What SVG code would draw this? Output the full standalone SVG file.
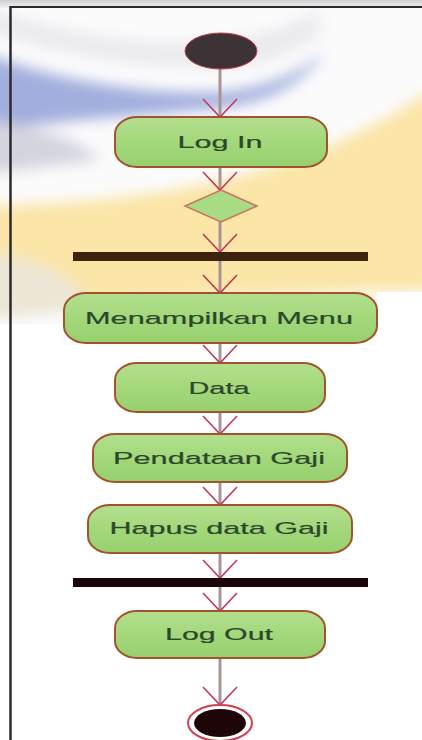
<svg xmlns="http://www.w3.org/2000/svg" width="422" height="740" viewBox="0 0 422 740">
<style>
.box{fill:url(#gBox);stroke:#a2532e;stroke-width:2}
.lbl{font-family:"Liberation Sans",Arial,sans-serif;font-size:17px;fill:#2c472c;stroke:#2c472c;stroke-width:0.2;text-anchor:middle}
.conn{stroke:#a99494;stroke-width:3;fill:none;marker-end:url(#arr)}
.bar{stroke:none}
</style>
<defs>
<linearGradient id="gBox" x1="0" y1="0" x2="0" y2="1">
<stop offset="0" stop-color="#b4df8e"/>
<stop offset="0.5" stop-color="#a3d87b"/>
<stop offset="1" stop-color="#97d06f"/>
</linearGradient>
<linearGradient id="gTop" x1="0" y1="0" x2="0" y2="1">
<stop offset="0" stop-color="#cfcfd2"/>
<stop offset="1" stop-color="#eeeeef"/>
</linearGradient>
<filter id="blur" x="-30%" y="-30%" width="160%" height="160%">
<feGaussianBlur stdDeviation="7"/>
</filter>
<clipPath id="bgClip">
<polygon points="0,0 422,0 422,292 377,292 377,345 63,345 63,324 0,324"/>
</clipPath>
<marker id="arr" markerUnits="userSpaceOnUse" markerWidth="40" markerHeight="40" viewBox="-20 -20 40 40" refX="0" refY="0" orient="auto" overflow="visible">
<path d="M-18,-17 L0,0 L-18,17" fill="none" stroke="#c23a58" stroke-width="1.6"/>
</marker>
</defs>

<g id="background" clip-path="url(#bgClip)">
<rect x="0" y="0" width="422" height="345" fill="#fbfbfc"/>
<rect x="0" y="0" width="422" height="8" fill="url(#gTop)"/>
<g filter="url(#blur)">
<path d="M-20,30 C60,55 140,70 220,68 C270,66 300,50 320,35 L320,10 C280,30 240,40 200,42 C120,45 40,25 -20,5 Z" fill="#ebebef"/>
<path d="M-20,52 C60,82 150,95 220,92 C265,89 300,72 325,52 C305,80 275,102 220,108 C140,116 60,120 -20,132 Z" fill="#a2aedd"/>
<path d="M-20,120 C40,125 80,140 100,160 L-20,175 Z" fill="#d4d4de"/>
<path d="M-20,205 C100,205 220,190 320,150 C370,128 410,105 440,85 L440,290 C300,292 150,300 -20,310 Z" fill="#fbe5a7"/>
<path d="M-20,250 C40,260 80,275 90,310 L-20,320 Z" fill="#ece6d6"/>
</g>
</g>

<g id="frame" fill="none" stroke="#2a2a2a">
<line x1="10" y1="7" x2="422" y2="7" stroke-width="2"/>
<line x1="10.5" y1="6" x2="10.5" y2="740" stroke-width="2.5"/>
</g>

<g id="connectors">
<line class="conn" x1="220" y1="69" x2="220" y2="117"/>
<line class="conn" x1="220" y1="167" x2="220" y2="190"/>
<line class="conn" x1="220" y1="222" x2="220" y2="252"/>
<line class="conn" x1="220" y1="261" x2="220" y2="293"/>
<line class="conn" x1="220" y1="343" x2="220" y2="363"/>
<line class="conn" x1="220" y1="412" x2="220" y2="434"/>
<line class="conn" x1="220" y1="482" x2="220" y2="505"/>
<line class="conn" x1="220" y1="553" x2="220" y2="578"/>
<line class="conn" x1="220" y1="587" x2="220" y2="611"/>
<line class="conn" x1="220" y1="658" x2="220" y2="705"/>
</g>

<g id="start">
<ellipse cx="221" cy="51" rx="36" ry="18" fill="#3d3236" stroke="#c04050" stroke-width="1"/>
</g>

<g id="login">
<rect class="box" x="115" y="117" width="212" height="50" rx="22" ry="17"/>
<text class="lbl" x="220" y="148" textLength="85" lengthAdjust="spacingAndGlyphs">Log In</text>
</g>

<g id="decision">
<polygon points="221,190 257,206 221,222 185,206" fill="#a8dc84" stroke="#d07060" stroke-width="1.5"/>
</g>

<g id="fork1">
<rect class="bar" x="73" y="252" width="295" height="9" fill="#3e2210"/>
</g>

<g id="menu">
<rect class="box" x="64" y="293" width="313" height="50" rx="22" ry="17"/>
<text class="lbl" x="219" y="324" textLength="268" lengthAdjust="spacingAndGlyphs">Menampilkan Menu</text>
</g>

<g id="data">
<rect class="box" x="115" y="363" width="210" height="49" rx="22" ry="17"/>
<text class="lbl" x="219" y="394" textLength="61" lengthAdjust="spacingAndGlyphs">Data</text>
</g>

<g id="pendataan">
<rect class="box" x="93" y="434" width="254" height="48" rx="22" ry="17"/>
<text class="lbl" x="219" y="464" textLength="212" lengthAdjust="spacingAndGlyphs">Pendataan Gaji</text>
</g>

<g id="hapus">
<rect class="box" x="88" y="505" width="264" height="48" rx="22" ry="17"/>
<text class="lbl" x="219" y="534" textLength="219" lengthAdjust="spacingAndGlyphs">Hapus data Gaji</text>
</g>

<g id="join">
<rect class="bar" x="73" y="578" width="295" height="9" fill="#1a0608"/>
</g>

<g id="logout">
<rect class="box" x="115" y="611" width="210" height="47" rx="22" ry="17"/>
<text class="lbl" x="219" y="640" textLength="108" lengthAdjust="spacingAndGlyphs">Log Out</text>
</g>

<g id="end">
<ellipse cx="220" cy="723" rx="32" ry="18" fill="#ffffff" stroke="#d04050" stroke-width="2"/>
<ellipse cx="220" cy="723" rx="26" ry="14" fill="#1e0508"/>
</g>
</svg>
